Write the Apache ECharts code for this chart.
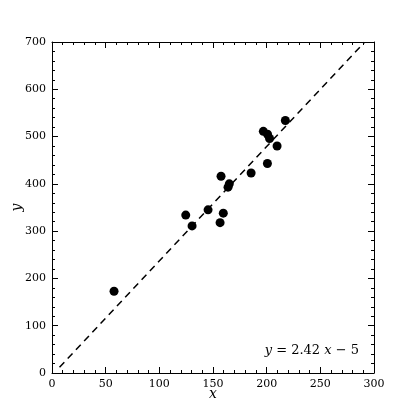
<!DOCTYPE html>
<html><head><meta charset="utf-8">
<script src="https://cdn.jsdelivr.net/npm/echarts@6/dist/echarts.min.js"></script>
<style>html,body{margin:0;padding:0;background:#fff}#c{width:415px;height:415px}</style>
</head><body><div id="c"></div>
<script>
const xValues = [57.8, 124.6, 130.5, 145.4, 157.5, 156.6, 159.6, 165.2, 164.0, 185.5, 196.9, 200.8, 202.7, 209.7, 200.7, 217.4];
const yValues = [173, 334, 311, 345, 416, 318, 338, 400, 393, 423, 511, 505, 496, 480, 443, 534];
const fitSlope = 2.42;
const fitIntercept = -5;
const fitRange = [7, 291];
const xTicks = [0, 50, 100, 150, 200, 250, 300];
const yTicks = [0, 100, 200, 300, 400, 500, 600, 700];

const font = 'DejaVu Serif';
const chart = echarts.init(document.getElementById('c'));
const pts = xValues.map((x, i) => [x, yValues[i]]);
const fit = fitRange.map(x => [x, fitSlope * x + fitIntercept]);
const axBase = (isX, primary) => ({
  type: 'value',
  min: isX ? xTicks[0] : yTicks[0],
  max: isX ? xTicks[xTicks.length - 1] : yTicks[yTicks.length - 1],
  interval: 100 / (isX ? 2 : 1),
  position: isX ? (primary ? 'bottom' : 'top') : (primary ? 'left' : 'right'),
  axisLine: {show: true, onZero: false, lineStyle: {color: '#000', width: 1}},
  axisTick: {show: true, inside: true, length: 6, lineStyle: {color: '#000'}},
  minorTick: {show: true, splitNumber: 5, length: 3, lineStyle: {color: '#000'}},
  splitLine: {show: false},
  axisLabel: {show: primary, color: '#000', fontFamily: font, fontSize: 11, margin: 6},
});
const xa = axBase(true, true);
xa.name = 'x'; xa.nameLocation = 'middle'; xa.nameGap = 14; xa.nameMoveOverlap = false;
xa.nameTextStyle = {fontFamily: font, fontStyle: 'italic', fontSize: 14, color: '#000'};
const ya = axBase(false, true);
ya.name = 'y'; ya.nameLocation = 'middle'; ya.nameGap = 28; ya.nameMoveOverlap = false;
ya.nameTextStyle = {fontFamily: font, fontStyle: 'italic', fontSize: 14, color: '#000'};

chart.setOption({
  animation: false,
  grid: {left: 52, right: 41, top: 42, bottom: 42, containLabel: false, outerBoundsMode: 'none'},
  xAxis: [xa, axBase(true, false)],
  yAxis: [ya, axBase(false, false)],
  series: [
    {type: 'line', data: fit, symbol: 'none', lineStyle: {color: '#000', width: 1.5, type: [7, 5]}, z: 1},
    {type: 'scatter', data: pts, symbol: 'circle', symbolSize: 9, itemStyle: {color: '#000', opacity: 1}, z: 2}
  ],
  graphic: [{
    type: 'text', right: 56, top: 344,
    style: {
      text: '{i|y} = 2.42 {i|x} − 5',
      font: '13px "' + font + '"', fill: '#000',
      rich: {i: {fontStyle: 'italic', fontFamily: font, fontSize: 13}}
    }
  }]
});
</script></body></html>
